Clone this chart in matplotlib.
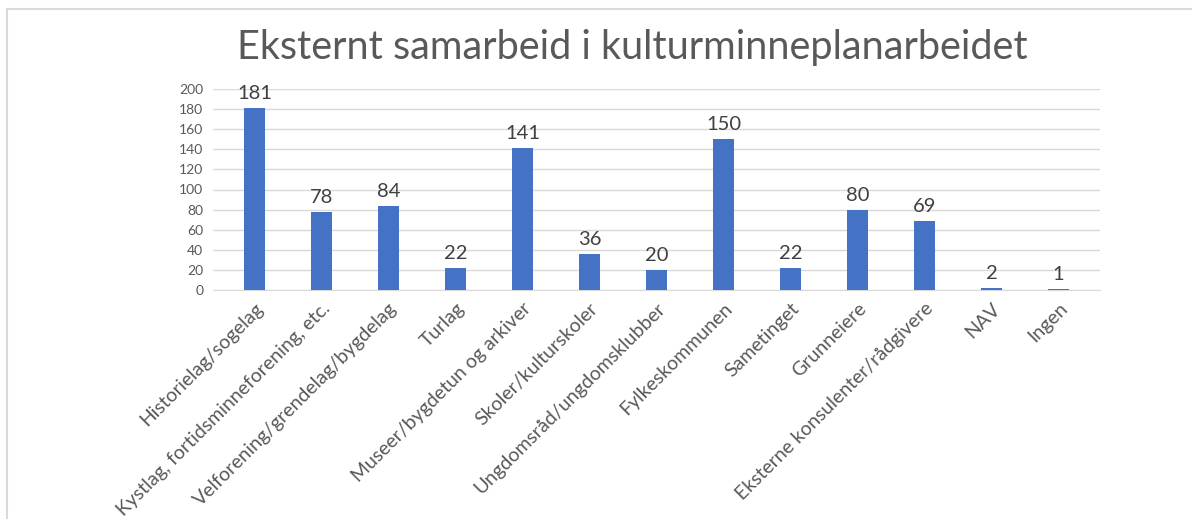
import matplotlib.pyplot as plt
from matplotlib.patches import Rectangle

categories = [
    "Historielag/sogelag",
    "Kystlag, fortidsminneforening, etc.",
    "Velforening/grendelag/bygdelag",
    "Turlag",
    "Museer/bygdetun og arkiver",
    "Skoler/kulturskoler",
    "Ungdomsråd/ungdomsklubber",
    "Fylkeskommunen",
    "Sametinget",
    "Grunneiere",
    "Eksterne konsulenter/rådgivere",
    "NAV",
    "Ingen",
]
values = [181, 78, 84, 22, 141, 36, 20, 150, 22, 80, 69, 2, 1]
yticks = list(range(0, 201, 20))

plt.rcParams['font.family'] = ['Lato', 'DejaVu Sans']

fig = plt.figure(figsize=(11.92, 5.19), dpi=100)
# ramme rundt diagrammet
fig.patches.append(Rectangle((7 / 1192, -0.1), 1.2, 1 - 9 / 519 + 0.1,
                             transform=fig.transFigure, fill=False,
                             edgecolor='#d9d9d9', linewidth=1.5))

ax = fig.add_axes([213 / 1192, 1 - 290 / 519, 887 / 1192, 201 / 519])
x = range(len(categories))
bars = ax.bar(x, values, width=0.31, color='#4472c4', zorder=3)

for xi, v in zip(x, values):
    ax.text(xi, v + 6, str(v), ha='center', va='bottom', fontsize=14.5, color='#404040')

ax.set_xlim(-0.62, len(categories) - 0.38)
ax.set_ylim(0, 200)
ax.set_yticks(yticks)
ax.grid(axis='y', color='#d9d9d9', linewidth=1, zorder=0)
for s in ['top', 'right', 'left']:
    ax.spines[s].set_visible(False)
ax.spines['bottom'].set_color('#d9d9d9')
ax.tick_params(axis='both', length=0, colors='#595959')
ax.tick_params(axis='y', labelsize=10, pad=7)
ax.set_xticks(list(x))
ax.set_xticklabels(categories, rotation=45, ha='right', rotation_mode='anchor', fontsize=14)
ax.tick_params(axis='x', pad=7)

fig.text(632 / 1192, 1 - 48 / 519, "Eksternt samarbeid i kulturminneplanarbeidet",
         ha='center', va='center', fontsize=28.5, color='#595959')

fig.savefig('out.png', dpi=100)
